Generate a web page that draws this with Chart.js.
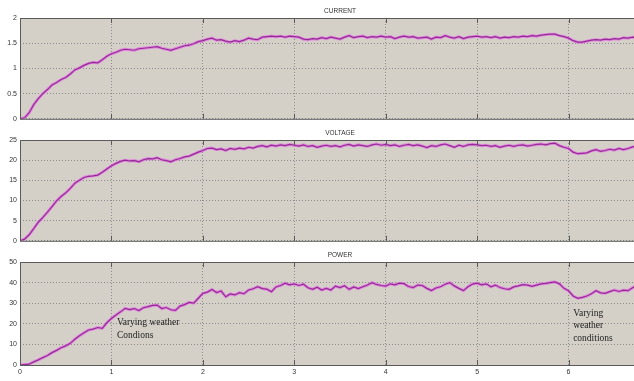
<!DOCTYPE html>
<html>
<head>
<meta charset="utf-8">
<script src="https://cdn.jsdelivr.net/npm/chart.js@4/dist/chart.umd.min.js"></script>
<style>
  html, body { margin: 0; padding: 0; background: #fff; overflow: hidden; width: 634px; height: 381px; }
  canvas { position: absolute; left: 0; }
</style>
</head>
<body>
<canvas id="current" width="700" height="126" style="top:0px"></canvas>
<canvas id="voltage" width="700" height="120" style="top:128px"></canvas>
<canvas id="power" width="700" height="131" style="top:250px"></canvas>
<script>
// time base (s), one sample every 0.05
const time = [
  0.00, 0.05, 0.10, 0.15, 0.20, 0.25, 0.30, 0.35, 0.40, 0.45,
  0.50, 0.55, 0.60, 0.65, 0.70, 0.75, 0.80, 0.85, 0.90, 0.95,
  1.00, 1.05, 1.10, 1.15, 1.20, 1.25, 1.30, 1.35, 1.40, 1.45,
  1.50, 1.55, 1.60, 1.65, 1.70, 1.75, 1.80, 1.85, 1.90, 1.95,
  2.00, 2.05, 2.10, 2.15, 2.20, 2.25, 2.30, 2.35, 2.40, 2.45,
  2.50, 2.55, 2.60, 2.65, 2.70, 2.75, 2.80, 2.85, 2.90, 2.95,
  3.00, 3.05, 3.10, 3.15, 3.20, 3.25, 3.30, 3.35, 3.40, 3.45,
  3.50, 3.55, 3.60, 3.65, 3.70, 3.75, 3.80, 3.85, 3.90, 3.95,
  4.00, 4.05, 4.10, 4.15, 4.20, 4.25, 4.30, 4.35, 4.40, 4.45,
  4.50, 4.55, 4.60, 4.65, 4.70, 4.75, 4.80, 4.85, 4.90, 4.95,
  5.00, 5.05, 5.10, 5.15, 5.20, 5.25, 5.30, 5.35, 5.40, 5.45,
  5.50, 5.55, 5.60, 5.65, 5.70, 5.75, 5.80, 5.85, 5.90, 5.95,
  6.00, 6.05, 6.10, 6.15, 6.20, 6.25, 6.30, 6.35, 6.40, 6.45,
  6.50, 6.55, 6.60, 6.65, 6.70, 6.75
]

const current = [
  0.00, 0.02, 0.12, 0.28, 0.40, 0.50, 0.58, 0.67, 0.72, 0.78,
  0.82, 0.89, 0.97, 1.01, 1.06, 1.10, 1.12, 1.11, 1.17, 1.24,
  1.29, 1.32, 1.36, 1.38, 1.37, 1.36, 1.39, 1.40, 1.41, 1.42,
  1.43, 1.40, 1.38, 1.36, 1.39, 1.42, 1.45, 1.46, 1.49, 1.53,
  1.55, 1.58, 1.60, 1.56, 1.57, 1.54, 1.52, 1.55, 1.53, 1.56,
  1.60, 1.58, 1.57, 1.62, 1.63, 1.64, 1.63, 1.64, 1.62, 1.64,
  1.63, 1.62, 1.58, 1.57, 1.59, 1.58, 1.61, 1.59, 1.62, 1.60,
  1.58, 1.62, 1.65, 1.61, 1.63, 1.64, 1.61, 1.63, 1.62, 1.64,
  1.62, 1.63, 1.59, 1.62, 1.64, 1.62, 1.63, 1.60, 1.61, 1.62,
  1.58, 1.62, 1.61, 1.65, 1.62, 1.60, 1.63, 1.59, 1.62, 1.63,
  1.64, 1.62, 1.63, 1.61, 1.63, 1.60, 1.62, 1.61, 1.63, 1.62,
  1.64, 1.63, 1.65, 1.64, 1.66, 1.67, 1.68, 1.68, 1.65, 1.63,
  1.60, 1.55, 1.52, 1.52, 1.54, 1.56, 1.57, 1.56, 1.58, 1.57,
  1.59, 1.58, 1.61, 1.60, 1.62, 1.61
]

const voltage = [
  0.0, 0.4, 1.5, 3.0, 4.6, 5.8, 7.1, 8.5, 9.9, 11.0,
  11.9, 13.0, 14.3, 15.0, 15.7, 16.0, 16.1, 16.3, 17.0, 17.8,
  18.6, 19.2, 19.7, 20.0, 19.8, 19.9, 19.6, 20.1, 20.4, 20.3,
  20.6, 20.1, 19.9, 19.6, 20.1, 20.4, 20.8, 21.0, 21.5, 22.0,
  22.4, 22.9, 23.0, 22.6, 22.8, 22.4, 22.9, 22.7, 23.0, 22.8,
  23.2, 23.0, 23.4, 23.6, 23.3, 23.7, 23.5, 23.8, 23.6, 23.9,
  23.7, 23.5, 23.8, 23.4, 23.6, 23.2, 23.5, 23.7, 23.4, 23.6,
  23.3, 23.7, 23.9, 23.5, 23.8, 23.6, 23.4, 23.8, 24.0, 23.7,
  23.9, 23.6, 23.8, 23.4, 23.7, 23.9, 23.6, 23.8, 23.5, 23.1,
  23.6, 23.4, 23.8, 24.0, 23.6, 23.2, 23.7, 23.4, 23.8, 23.9,
  23.8, 23.6, 23.7, 23.4, 23.6, 23.2, 23.5, 23.7, 23.4, 23.7,
  23.8, 23.5, 23.7, 23.9, 24.0, 23.8, 24.1, 24.2, 23.6, 23.2,
  22.9, 22.0, 21.6, 21.7, 21.8, 22.3, 22.6, 22.2, 22.4, 22.7,
  22.5, 22.9, 22.6, 22.9, 23.3, 23.5
]

const power = [
  0.0, 0.2, 0.4, 1.5, 2.5, 3.6, 4.6, 6.0, 7.1, 8.4,
  9.3, 10.5, 12.5, 14.2, 15.6, 17.0, 17.4, 18.2, 17.8, 20.5,
  22.6, 24.3, 25.8, 27.5, 26.9, 27.4, 26.4, 27.8, 28.3, 28.9,
  29.1, 27.4, 27.9, 26.8, 26.5, 28.6, 29.3, 30.4, 30.0, 32.4,
  34.8, 35.4, 36.7, 35.2, 35.9, 33.1, 34.5, 34.0, 35.1, 34.6,
  36.4, 37.0, 38.0, 37.1, 36.8, 35.6, 37.9, 38.6, 39.7, 38.9,
  39.4, 38.6, 39.2, 37.5, 36.7, 37.8, 36.4, 37.2, 36.4, 38.3,
  37.6, 38.5, 36.7, 37.9, 37.1, 38.0, 38.8, 40.0, 39.1, 38.6,
  38.3, 39.4, 38.9, 39.7, 39.5, 38.1, 37.6, 38.8, 38.6, 37.2,
  36.1, 37.4, 38.0, 39.2, 40.0, 38.4, 37.2, 36.1, 38.0, 39.3,
  39.7, 38.9, 39.4, 38.0, 38.8, 37.6, 37.0, 36.7, 37.9, 38.4,
  39.0, 38.8, 38.2, 38.8, 39.4, 39.6, 40.0, 40.3, 39.4, 37.2,
  36.0, 33.5, 32.4, 32.8, 33.5, 34.6, 36.1, 35.0, 34.8, 35.6,
  36.4, 35.7, 36.3, 36.1, 37.5, 38.8
]

const xTicks = [0, 1, 2, 3, 4, 5, 6, 7]

const BG = '#d4d0c8'
const FRAME = '#5a5a5a'

// draws the scope look: grey plot area, frame, solid tick stubs, title, notes
const scopePlugin = {
  id: 'scope',
  beforeDraw(chart) {
    const { ctx, chartArea: a } = chart
    ctx.save()
    ctx.fillStyle = BG
    ctx.fillRect(a.left, a.top, a.right - a.left, a.bottom - a.top)
    ctx.restore()
  },
  afterDraw(chart, args, opts) {
    const { ctx, chartArea: a, scales } = chart
    ctx.save()
    ctx.strokeStyle = FRAME
    ctx.lineWidth = 1
    ctx.strokeRect(a.left + 0.5, a.top + 0.5, a.right - a.left, a.bottom - a.top)

    ctx.beginPath()
    xTicks.forEach((t) => {
      const px = Math.round(scales.x.getPixelForValue(t)) + 0.5
      ctx.moveTo(px, a.top)
      ctx.lineTo(px, a.top + 5)
      ctx.moveTo(px, a.bottom)
      ctx.lineTo(px, a.bottom - 5)
    })
    ctx.stroke()

    ctx.fillStyle = '#333'
    ctx.font = '6.5px "Liberation Sans", Arial, sans-serif'
    ctx.textAlign = 'center'
    ctx.textBaseline = 'middle'
    ctx.fillText(opts.title, (a.left + a.right) / 2, a.top - 7)

    ctx.fillStyle = '#222'
    ctx.font = '9.5px "Liberation Serif", "Times New Roman", serif'
    ctx.textAlign = 'left'
    ;(opts.notes || []).forEach((n) => {
      const px = scales.x.getPixelForValue(n.x)
      n.lines.forEach((line, i) => {
        const py = scales.y.getPixelForValue(n.y) + i * 12.5
        ctx.fillText(line, px, py)
      })
    })
    ctx.restore()
  },
}

function makePanel(id, values, yMax, yStep, title, padTop, xHeight, showX, notes) {
  return new Chart(document.getElementById(id), {
    type: 'line',
    data: {
      labels: time,
      datasets: [
        {
          data: values,
          borderColor: '#952a95',
          borderWidth: 1.2,
          pointRadius: 0,
          tension: 0,
          order: 1,
        },
        {
          data: values,
          borderColor: 'rgba(228, 118, 228, 0.8)',
          borderWidth: 3,
          pointRadius: 0,
          tension: 0,
          order: 2,
        },
      ],
    },
    options: {
      responsive: false,
      animation: false,
      devicePixelRatio: 1,
      layout: { padding: { top: padTop, right: 40, left: 0, bottom: 0 } },
      plugins: {
        legend: { display: false },
        tooltip: { enabled: false },
        scope: { title: title, notes: notes },
      },
      scales: {
        x: {
          type: 'linear',
          min: 0,
          max: 7,
          afterFit: (s) => { s.height = xHeight },
          afterBuildTicks: (s) => { s.ticks = xTicks.map((v) => ({ value: v })) },
          grid: { color: '#8a8a8a', drawTicks: false, lineWidth: 1 },
          border: { display: false, dash: [1, 2] },
          ticks: {
            display: showX,
            color: '#333',
            padding: 3,
            font: { size: 7, family: '"Liberation Sans", Arial, sans-serif' },
            maxRotation: 0,
          },
        },
        y: {
          min: 0,
          max: yMax,
          afterFit: (s) => { s.width = 20 },
          grid: { color: '#8a8a8a', drawTicks: false, lineWidth: 1 },
          border: { display: false, dash: [1, 2] },
          ticks: {
            stepSize: yStep,
            color: '#333',
            padding: 3,
            font: { size: 7, family: '"Liberation Sans", Arial, sans-serif' },
            callback: (v) => String(Number(v.toFixed(2))),
          },
        },
      },
    },
    plugins: [scopePlugin],
  })
}

makePanel('current', current, 2, 0.5, 'CURRENT', 18, 4, false, [])
makePanel('voltage', voltage, 25, 5, 'VOLTAGE', 12, 4, false, [])
makePanel('power', power, 50, 10, 'POWER', 12, 16, true, [
  { x: 1.06, y: 20.4, lines: ['Varying weather', 'Condions'] },
  { x: 6.05, y: 25.2, lines: ['Varying', 'weather', 'conditions'] },
])
</script>
</body>
</html>
